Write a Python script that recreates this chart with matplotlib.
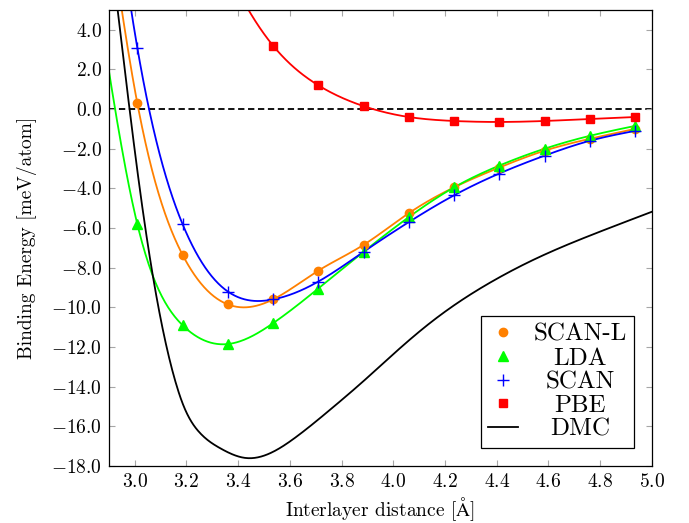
import numpy as np
import matplotlib
matplotlib.use("Agg")
import matplotlib.pyplot as plt
import matplotlib.transforms as mtransforms
from matplotlib.ticker import FuncFormatter

plt.rcParams['font.family'] = ['cmr10', 'DejaVu Serif']
plt.rcParams['mathtext.fontset'] = 'cm'
plt.rcParams['axes.formatter.use_mathtext'] = True

# ----- DATA ------
dist = [2.835, 3.01, 3.185, 3.36, 3.535, 3.71, 3.885, 4.06, 4.235, 4.41, 4.585, 4.76, 4.935]

scan_l = [16.0, 0.3, -7.35, -9.85, -9.6, -8.15, -6.85, -5.25, -3.95, -2.95, -2.1, -1.5, -1.0]
lda = [7.5, -5.8, -10.9, -11.85, -10.8, -9.05, -7.2, -5.45, -3.95, -2.85, -2.0, -1.35, -0.85]
scan = [20.0, 3.1, -5.8, -9.2, -9.6, -8.7, -7.2, -5.7, -4.35, -3.25, -2.35, -1.6, -1.1]
pbe = [30.0, 21.0, 13.0, 7.0, 3.2, 1.2, 0.15, -0.4, -0.6, -0.65, -0.6, -0.5, -0.4]

dmc_x = [2.934, 2.98, 3.03, 3.07, 3.11, 3.15, 3.19, 3.25, 3.33, 3.432, 3.523, 3.626,
         3.755, 3.883, 4.013, 4.141, 4.27, 4.399, 4.528, 4.657, 4.786, 5.0]
dmc_y = [5.0, 0.0, -5.0, -8.4, -11.2, -13.4, -15.0, -16.3, -17.1, -17.6, -17.36, -16.52,
         -15.17, -13.74, -12.21, -10.8, -9.59, -8.57, -7.69, -6.93, -6.25, -5.18]


def spline(x, y, n=500):
    # natural cubic spline, like the "smooth" option of pgfplots
    x = np.asarray(x, float)
    y = np.asarray(y, float)
    h = np.diff(x)
    m = len(x)
    A = np.zeros((m, m))
    b = np.zeros(m)
    A[0, 0] = A[-1, -1] = 1.0
    for i in range(1, m - 1):
        A[i, i - 1] = h[i - 1]
        A[i, i] = 2 * (h[i - 1] + h[i])
        A[i, i + 1] = h[i]
        b[i] = 6 * ((y[i + 1] - y[i]) / h[i] - (y[i] - y[i - 1]) / h[i - 1])
    M = np.linalg.solve(A, b)
    xs = np.linspace(x[0], x[-1], n)
    k = np.clip(np.searchsorted(x, xs) - 1, 0, m - 2)
    t0 = xs - x[k]
    t1 = x[k + 1] - xs
    hk = h[k]
    ys = (M[k] * t1**3 + M[k + 1] * t0**3) / (6 * hk) \
        + (y[k] / hk - M[k] * hk / 6) * t1 + (y[k + 1] / hk - M[k + 1] * hk / 6) * t0
    return xs, ys


fig = plt.figure(figsize=(6.89, 5.23), dpi=100)
ax = fig.add_axes([0.158, 0.109, 0.788, 0.872])

ax.axhline(0, color='black', lw=1.3, ls=(0, (3.5, 2.0)), zorder=1)

series = [
    ('SCAN-L', scan_l, '#ff8000', 'o', 6),
    ('LDA', lda, '#00ff00', '^', 7.5),
    ('SCAN', scan, '#0000ff', '+', 9),
    ('PBE', pbe, '#ff0000', 's', 6),
]
for name, vals, col, mk, ms in series:
    xs, ys = spline(dist, vals)
    ax.plot(xs, ys, color=col, lw=1.3, zorder=2)
    ax.plot(dist, vals, ls='none', marker=mk, ms=ms, color=col, mew=1.0, label=name, zorder=3)

xs, ys = spline(dmc_x, dmc_y)
ax.plot(xs, ys, color='black', lw=1.3, label='DMC', zorder=2)

ax.set_xlim(2.9, 5.0)
ax.set_ylim(-18, 5)
fmt = FuncFormatter(lambda v, p: '$%.1f$' % v)
ax.xaxis.set_major_formatter(fmt)
ax.yaxis.set_major_formatter(fmt)
ax.set_xticks(np.arange(3.0, 5.01, 0.2))
ax.set_yticks(np.arange(-18, 4.1, 2))
ax.tick_params(direction='in', top=True, right=True, length=4, width=0.8,
               color='0.65', labelsize=14, pad=5)
for s in ax.spines.values():
    s.set_linewidth(0.9)

ax.set_xlabel(r'Interlayer distance [$\mathrm{\AA}$]', fontsize=14, labelpad=3)
ax.set_ylabel('Binding Energy [meV/atom]', fontsize=14, labelpad=10)

leg = ax.legend(loc='lower right', fontsize=18, fancybox=False, framealpha=1,
                edgecolor='black', handlelength=1.2, handletextpad=0.6,
                labelspacing=0.05, borderpad=0.3, borderaxespad=0.7,
                numpoints=1)
leg.get_frame().set_linewidth(0.9)

# center the legend texts like pgfplots does
fig.canvas.draw()
r = fig.canvas.get_renderer()
widths = [t.get_window_extent(r).width for t in leg.get_texts()]
wmax = max(widths)
for t, w in zip(leg.get_texts(), widths):
    t.set_transform(t.get_transform() + mtransforms.Affine2D().translate((wmax - w) / 2, 0))

fig.savefig('out.png', dpi=100)
